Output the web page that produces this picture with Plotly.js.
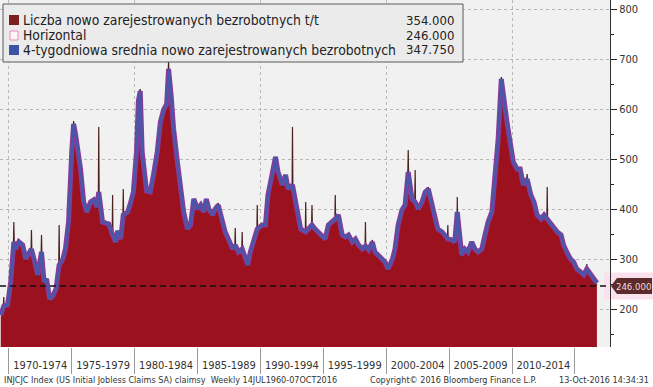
<!DOCTYPE html>
<html><head><meta charset="utf-8">
<script src="https://cdn.plot.ly/plotly-3.0.1.min.js"></script>
<style>html,body{margin:0;padding:0;background:#fff}#chart{width:653px;height:387px}</style>
</head><body><div id="chart"></div>
<script>
// 4-week average (thousands), decimal-year dates
const avgDates = [1969.36,1969.60,1969.90,1970.15,1970.40,1970.55,1970.80,1971.10,1971.35,1971.60,
1971.80,1972.00,1972.30,1972.60,1972.80,1973.00,1973.25,1973.50,1973.75,1974.00,
1974.30,1974.50,1974.75,1975.00,1975.15,1975.30,1975.45,1975.70,1975.95,1976.20,
1976.50,1976.75,1977.00,1977.15,1977.45,1977.70,1977.95,1978.25,1978.50,1978.65,
1978.90,1979.10,1979.45,1979.70,1979.90,1980.15,1980.30,1980.45,1980.60,1980.95,
1981.25,1981.50,1981.80,1982.05,1982.30,1982.55,1982.70,1982.90,1983.10,1983.40,
1983.65,1983.90,1984.20,1984.45,1984.70,1985.00,1985.25,1985.50,1985.70,1985.90,
1986.20,1986.40,1986.65,1987.00,1987.20,1987.45,1987.80,1988.00,1988.25,1988.55,
1988.80,1989.00,1989.20,1989.45,1989.75,1990.15,1990.40,1990.60,1990.95,1991.20,
1991.40,1991.75,1992.00,1992.20,1992.55,1992.90,1993.20,1993.60,1993.80,1994.10,
1994.35,1994.60,1994.90,1995.15,1995.40,1995.70,1995.95,1996.20,1996.50,1996.75,
1997.00,1997.30,1997.55,1997.80,1998.10,1998.35,1998.60,1998.90,1999.10,1999.35,
1999.70,1999.90,2000.15,2000.50,2000.70,2000.95,2001.25,2001.50,2001.75,2002.05,
2002.30,2002.55,2002.85,2003.10,2003.35,2003.65,2003.90,2004.10,2004.45,2004.70,
2004.90,2005.25,2005.45,2005.65,2006.00,2006.25,2006.50,2006.80,2007.05,2007.30,
2007.60,2007.85,2008.10,2008.40,2008.65,2008.90,2009.15,2009.30,2009.60,2009.85,
2010.10,2010.40,2010.65,2010.90,2011.20,2011.50,2011.75,2012.00,2012.30,2012.55,
2012.80,2013.10,2013.35,2013.60,2013.90,2014.10,2014.35,2014.65,2014.90,2015.15,
2015.45,2015.70,2015.95,2016.25,2016.50,2016.75];
const avgValues = [188,206,208,254,334,320,334,328,300,314,
320,300,268,314,254,260,220,226,240,288,
300,320,374,514,570,550,528,480,414,394,
414,418,404,434,374,372,370,348,334,356,
340,388,394,414,434,514,616,636,514,436,
434,468,514,574,598,610,680,628,560,494,
448,394,360,368,420,400,408,394,420,400,
388,400,408,374,354,340,320,328,314,320,
300,288,314,334,360,368,368,428,468,504,
474,448,468,440,448,400,360,354,360,368,
360,354,344,340,368,374,380,388,348,344,
348,334,340,328,320,326,318,334,314,308,
300,294,280,300,320,368,398,408,474,420,
414,400,414,434,440,408,374,360,354,348,
340,338,334,394,308,320,314,334,320,314,
320,348,374,394,474,540,660,628,574,534,
494,480,480,448,460,428,414,388,380,388,
380,368,360,354,348,328,314,300,294,280,
274,268,280,268,258,252];

// weekly initial claims (thousands)
const weeklyDates = [1969.36,1969.57,1969.60,1969.63,1969.90,1970.15,1970.37,1970.40,1970.43,1970.55,
1970.80,1971.10,1971.35,1971.60,1971.77,1971.80,1971.83,1972.00,1972.30,1972.57,
1972.60,1972.63,1972.80,1973.00,1973.25,1973.50,1973.75,1973.97,1974.00,1974.03,
1974.30,1974.50,1974.75,1975.00,1975.15,1975.30,1975.45,1975.70,1975.95,1976.20,
1976.50,1976.75,1977.00,1977.12,1977.15,1977.18,1977.45,1977.70,1977.95,1978.22,
1978.25,1978.28,1978.50,1978.65,1978.90,1979.07,1979.10,1979.13,1979.45,1979.70,
1979.90,1980.15,1980.30,1980.45,1980.60,1980.95,1981.25,1981.50,1981.80,1982.05,
1982.30,1982.55,1982.67,1982.70,1982.73,1982.90,1983.10,1983.40,1983.65,1983.90,
1984.20,1984.45,1984.70,1985.00,1985.25,1985.50,1985.70,1985.90,1986.20,1986.40,
1986.65,1987.00,1987.20,1987.45,1987.80,1987.97,1988.00,1988.03,1988.25,1988.52,
1988.55,1988.58,1988.80,1989.00,1989.20,1989.45,1989.72,1989.75,1989.78,1990.15,
1990.40,1990.60,1990.95,1991.20,1991.40,1991.75,1992.00,1992.20,1992.52,1992.55,
1992.58,1992.90,1993.20,1993.57,1993.60,1993.63,1993.80,1994.07,1994.10,1994.13,
1994.35,1994.60,1994.90,1995.15,1995.40,1995.70,1995.92,1995.95,1995.98,1996.20,
1996.50,1996.75,1997.00,1997.30,1997.55,1997.80,1998.10,1998.32,1998.35,1998.38,
1998.60,1998.90,1999.10,1999.35,1999.70,1999.90,2000.15,2000.50,2000.70,2000.95,
2001.25,2001.50,2001.72,2001.75,2001.78,2002.05,2002.27,2002.30,2002.33,2002.55,
2002.85,2003.10,2003.35,2003.65,2003.90,2004.10,2004.45,2004.70,2004.87,2004.90,
2004.93,2005.25,2005.45,2005.62,2005.65,2005.68,2006.00,2006.25,2006.50,2006.80,
2007.05,2007.30,2007.60,2007.85,2008.10,2008.40,2008.65,2008.90,2009.15,2009.30,
2009.60,2009.85,2010.10,2010.40,2010.65,2010.90,2011.17,2011.20,2011.23,2011.50,
2011.75,2012.00,2012.30,2012.55,2012.77,2012.80,2012.83,2013.10,2013.35,2013.60,
2013.90,2014.10,2014.35,2014.65,2014.90,2015.15,2015.45,2015.70,2015.92,2015.95,
2015.98,2016.25,2016.50,2016.75];
const weeklyValues = [192,208,224,206,204,262,330,374,332,316,
340,324,296,318,318,358,320,296,264,312,
348,310,250,258,216,230,236,286,368,290,
298,324,370,520,576,546,530,476,410,398,
410,422,400,430,564,428,370,376,366,346,
428,344,330,352,344,384,440,386,390,418,
430,520,622,640,510,432,438,464,518,570,
602,606,676,695,672,624,556,490,444,398,
356,372,416,404,404,398,416,396,392,396,
412,370,358,336,324,326,362,324,310,318,
354,316,296,284,318,330,358,408,356,364,
372,424,472,500,478,444,464,444,446,564,
444,396,364,352,414,350,356,366,408,364,
364,350,340,344,364,378,378,428,376,384,
352,340,352,330,344,324,324,324,374,322,
314,338,310,312,296,290,276,304,316,372,
394,412,470,518,468,416,412,478,410,396,
418,430,444,404,370,364,350,344,338,368,
336,334,330,336,424,340,304,316,318,330,
324,310,316,352,370,398,470,536,664,624,
570,530,490,476,484,444,458,470,456,424,
410,384,376,384,378,444,376,364,356,350,
344,324,310,296,290,276,270,264,276,290,
274,264,254,248];

const horizontalValue = [246, 246];
const periodBounds = [1970,1975,1980,1985,1990,1995,2000,2005,2010,2015];
const periodCenters = [1972.5,1977.5,1982.5,1987.5,1992.5,1997.5,2002.5,2007.5,2012.5];
const periodLabels = ['1970-1974','1975-1979','1980-1984','1985-1989','1990-1994','1995-1999','2000-2004','2005-2009','2010-2014'];
const gridYears = [1970,1980,1990,2000,2010];
const yTicks = [200,300,400,500,600,700,800];
const legendNames = ['Liczba nowo zarejestrowanych bezrobotnych t/t','Horizontal','4-tygodniowa srednia nowo zarejestrowanych bezrobotnych'];
const legendValues = ['354.000','246.000','347.750'];
const xRange = [1969.3, 2017.79];
const yRange = [124, 818];

const FONT = '"DejaVu Sans Condensed", "DejaVu Sans", sans-serif';
const W = 610, H = 347; // plot area px
const px = x => x / W, py = y => (H - y) / H;

const traces = [
  {x: weeklyDates, y: weeklyValues, type: 'scatter', mode: 'lines', fill: 'tozeroy',
   fillcolor: '#9b111e', line: {color: '#4a2220', width: 1.2}, hoverinfo: 'skip'},
  {x: avgDates, y: avgValues, type: 'scatter', mode: 'lines',
   line: {color: '#8a3a98', width: 5}, hoverinfo: 'skip'},
  {x: avgDates, y: avgValues, type: 'scatter', mode: 'lines',
   line: {color: '#4858a8', width: 2.6}, hoverinfo: 'skip'},
  {x: xRange, y: horizontalValue, type: 'scatter', mode: 'lines', xaxis: 'x2',
   line: {color: '#111', width: 1.5, dash: '6px,4px'}, hoverinfo: 'skip'}
];

const shapes = [
  // legend box
  {type: 'rect', xref: 'paper', yref: 'paper', x0: px(3), x1: px(463), y0: py(62), y1: py(4),
   fillcolor: '#ebebeb', line: {color: '#5a5a5a', width: 1}},
  {type: 'rect', xref: 'paper', yref: 'paper', x0: px(9), x1: px(19), y0: py(25), y1: py(15),
   fillcolor: '#7b1f1f', line: {width: 0}},
  {type: 'rect', xref: 'paper', yref: 'paper', x0: px(10), x1: px(18), y0: py(40), y1: py(31),
   fillcolor: '#fff6fa', line: {color: '#e48ab6', width: 1}},
  {type: 'rect', xref: 'paper', yref: 'paper', x0: px(9), x1: px(19), y0: py(55), y1: py(45),
   fillcolor: '#3d54a6', line: {width: 0}},
  // value tag background
  {type: 'rect', xref: 'paper', yref: 'y', x0: px(604), x1: px(653), y0: 219, y1: 273,
   fillcolor: '#fbe1ee', line: {width: 0}, layer: 'below'},
  {type: 'path', xref: 'paper', yref: 'y',
   path: `M ${px(611)} 246 L ${px(617)} 262 L ${px(652)} 262 L ${px(652)} 230 L ${px(617)} 230 Z`,
   fillcolor: '#5c2b2b', line: {width: 0}}
];

const nameFont = {family: FONT, size: 13.8, color: '#222'};
const valFont = {family: FONT, size: 13, color: '#222'};
const annotations = [];
legendNames.forEach((n, i) => {
  const yc = py(20 + 15 * i);
  annotations.push({xref: 'paper', yref: 'paper', x: px(21), y: yc, xanchor: 'left', yanchor: 'middle',
    text: n, showarrow: false, font: nameFont});
  annotations.push({xref: 'paper', yref: 'paper', x: px(456), y: yc, xanchor: 'right', yanchor: 'middle',
    text: legendValues[i], showarrow: false, font: valFont});
});
annotations.push({xref: 'paper', yref: 'y', x: px(633), y: 246, xanchor: 'center', yanchor: 'middle',
  text: '246.000', showarrow: false, font: {family: FONT, size: 9.5, color: '#f6d8de'}});
const footFont = {family: FONT, size: 9, color: '#333'};
annotations.push({xref: 'paper', yref: 'paper', x: px(2), y: py(380), xanchor: 'left', yanchor: 'middle',
  text: 'INJCJC Index (US Initial Jobless Claims SA) claimsy&nbsp;&nbsp;Weekly 14JUL1960-07OCT2016', showarrow: false, font: footFont});
annotations.push({xref: 'paper', yref: 'paper', x: px(368), y: py(380), xanchor: 'left', yanchor: 'middle',
  text: 'Copyright© 2016 Bloomberg Finance L.P.', showarrow: false, font: footFont});
annotations.push({xref: 'paper', yref: 'paper', x: px(651), y: py(380), xanchor: 'right', yanchor: 'middle',
  text: '13-Oct-2016 14:34:31', showarrow: false, font: footFont});

const layout = {
  width: 653, height: 387,
  margin: {l: 0, r: 43, t: 0, b: 40, pad: 0},
  paper_bgcolor: '#ffffff', plot_bgcolor: '#f1f1f1',
  showlegend: false,
  font: {family: FONT, size: 11, color: '#333'},
  xaxis: {range: xRange, tickmode: 'array', tickvals: gridYears, showticklabels: false, ticks: '',
    showgrid: true, gridcolor: '#b8b8b8', griddash: 'dot', gridwidth: 1, zeroline: false, showline: false,
    minor: {tickmode: 'array', tickvals: periodBounds, ticks: 'outside', ticklen: 26, tickcolor: '#9a9a9a', tickwidth: 1, showgrid: false}},
  xaxis2: {overlaying: 'x', anchor: 'y', side: 'bottom', range: xRange, tickmode: 'array',
    tickvals: periodCenters, ticktext: periodLabels, ticks: '', showgrid: false, zeroline: false, showline: false,
    ticklabelstandoff: 10, tickfont: {family: FONT, size: 11, color: '#333'}},
  yaxis: {side: 'right', range: yRange, tickmode: 'array', tickvals: yTicks, ticks: 'outside', ticklen: 6,
    tickcolor: '#222', showline: true, linecolor: '#333', linewidth: 1, showgrid: true, gridcolor: '#b8b8b8',
    griddash: 'dot', zeroline: false, tickfont: {family: FONT, size: 11, color: '#333'},
    minor: {dtick: 50, tick0: 0, ticks: 'outside', ticklen: 3, tickcolor: '#222', showgrid: false}},
  shapes: shapes,
  annotations: annotations
};

Plotly.newPlot('chart', traces, layout, {staticPlot: true, displayModeBar: false});
</script>
</body></html>
